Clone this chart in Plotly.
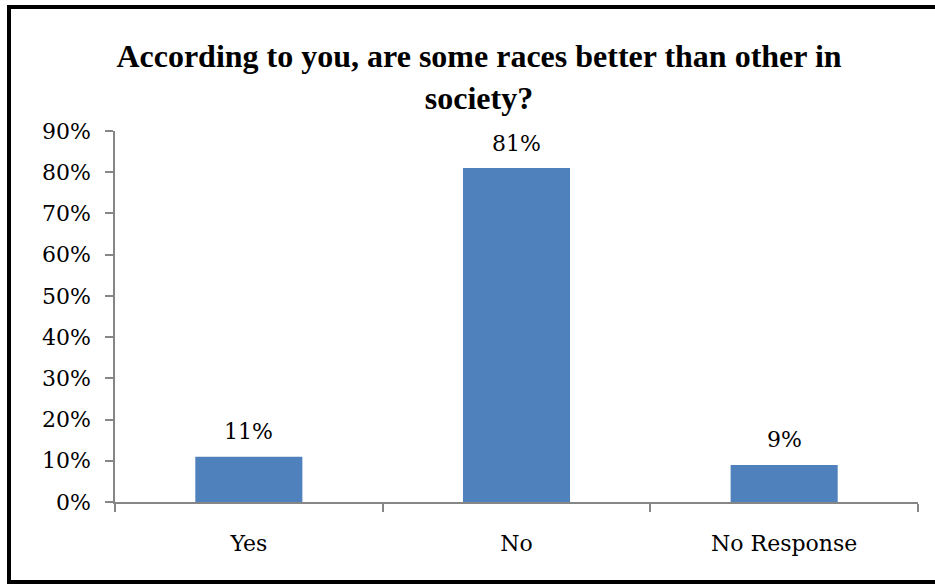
import plotly.graph_objects as go

categories = ["Yes", "No", "No Response"]
values = [11, 81, 9]
y_ticks = [0, 10, 20, 30, 40, 50, 60, 70, 80, 90]
y_tick_labels = [f"{t}%" for t in y_ticks]

W, H = 935, 584
ML, MR, MT, MB = 115, 17, 131, 82
PW, PH = W - ML - MR, H - MT - MB

FONT = "DejaVu Serif"
BAR = "#4F81BD"
AXIS = "#868686"

fig = go.Figure()
fig.add_trace(go.Bar(
    x=categories,
    y=values,
    marker=dict(color=BAR, line=dict(width=0)),
    hoverinfo="skip",
))

# value labels above each bar
for c, v in zip(categories, values):
    fig.add_annotation(
        x=c, y=v, text=f"{v}%", showarrow=False,
        xref="x", yref="y", yanchor="middle", yshift=25,
        font=dict(family=FONT, size=22, color="#000000"),
    )

# outer chart frame (top, left and bottom edges)
def px_x(p):
    return (p - ML) / PW

def px_y(p):
    return 1 - (p - MT) / PH

frame = dict(color="#000000", width=4)
for x0, y0, x1, y1 in [(7, 7, 935, 7), (9, 5, 9, 584), (7, 582, 935, 582)]:
    fig.add_shape(
        type="line", xref="paper", yref="paper",
        x0=px_x(x0), x1=px_x(x1), y0=px_y(y0), y1=px_y(y1),
        line=frame, layer="above",
    )

fig.update_layout(
    width=W, height=H,
    margin=dict(l=ML, r=MR, t=MT, b=MB, pad=0),
    paper_bgcolor="white", plot_bgcolor="white",
    bargap=0.6,
    showlegend=False,
    title=dict(
        text="According to you, are some races better than other in<br>society?",
        font=dict(family="Liberation Serif", size=32, color="#000000", weight="bold"),
        x=479 / W, xanchor="center", xref="container",
        y=1 - 67 / H, yanchor="middle", yref="container",
    ),
    xaxis=dict(
        range=[-0.5, 2.5],
        showline=True, linecolor=AXIS, linewidth=1.5,
        ticks="outside", ticklen=8, tickcolor=AXIS, tickwidth=1.5,
        tickson="boundaries",
        showgrid=False, zeroline=False,
        tickfont=dict(family=FONT, size=22, color="#000000"),
        ticklabelstandoff=21,
    ),
    yaxis=dict(
        range=[0, 90],
        tickvals=y_ticks, ticktext=y_tick_labels,
        showline=True, linecolor=AXIS, linewidth=1.5,
        ticks="outside", ticklen=8, tickcolor=AXIS, tickwidth=1.5,
        showgrid=False, zeroline=False,
        tickfont=dict(family=FONT, size=22, color="#000000"),
        ticklabelstandoff=10,
    ),
)

fig.write_html("out.html")
